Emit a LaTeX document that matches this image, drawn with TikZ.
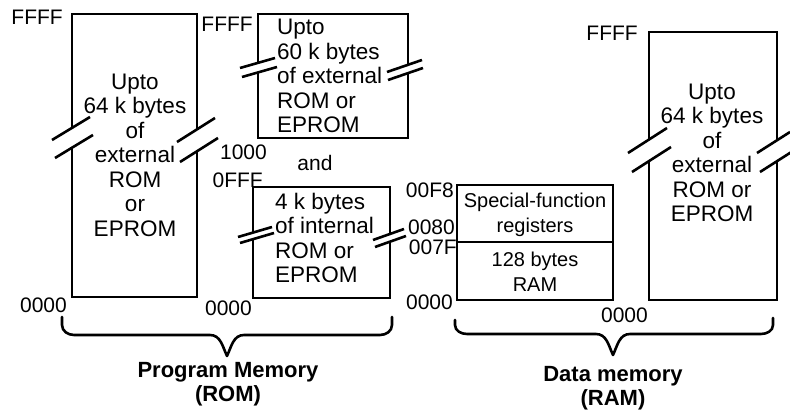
\documentclass[tikz,border=0pt]{standalone}
\usepackage{fontspec}
\setmainfont{Liberation Sans}
\newcommand\brkmark[7]{%
  \begin{scope}
    \clip (#1-3.5,#3-60) rectangle (#1+3.5,#3+60);
    \fill[white] (#2,#3) -- (#4,#5) -- (#4+#6,#5+#7) -- (#2+#6,#3+#7) -- cycle;
  \end{scope}
  \draw[brk] (#2,#3) -- (#4,#5);
  \draw[brk] (#2+#6,#3+#7) -- (#4+#6,#5+#7);}
\begin{document}
\begin{tikzpicture}[x=1pt,y=-1pt,
  box/.style={draw, line width=2.6pt, inner sep=0pt},
  brk/.style={line width=2.6pt},
  brace/.style={line width=2.6pt, line cap=round, line join=round},
  lbl/.style={font=\fontsize{21}{22}\selectfont, inner sep=0pt},
  txt/.style={font=\fontsize{22.5}{24.5}\selectfont, align=center, inner sep=0pt},
  stxt/.style={font=\fontsize{20}{24.5}\selectfont, align=center, inner sep=0pt},
  ttl/.style={font=\bfseries\fontsize{22}{24.5}\selectfont, align=center, inner sep=0pt}]
\useasboundingbox (0,0) rectangle (790,411);
\fill[white] (0,0) rectangle (790,411);

% boxes
\node[box, minimum width=125pt, minimum height=283pt] (ext64) at (134.5,155.5) {};
\node[box, minimum width=150pt, minimum height=124pt] (ext60) at (333,76) {};
\node[box, minimum width=137pt, minimum height=111pt] (int4) at (321.5,242.5) {};
\node[box, minimum width=156pt, minimum height=115pt] (dram) at (535,242.5) {};
\node[box, minimum width=128pt, minimum height=268pt] (xram) at (713,166) {};
\draw[brk] (457,242) -- (613,242);

% break marks
\brkmark{72}{52}{140}{90}{117}{3}{18}
\brkmark{197}{177}{142}{215}{118}{3}{20}
\brkmark{258}{240}{68}{275}{58}{2}{9}
\brkmark{408}{387}{72}{422}{60}{1}{8}
\brkmark{253}{238}{237}{272}{227}{2}{6}
\brkmark{390}{373}{240}{404}{229}{2}{7}
\brkmark{649}{628}{153}{667}{128}{4}{19}
\brkmark{777}{757}{153}{790}{132}{3}{19}

% box texts
\node[txt] (t1) at (135,155) {Upto\\64 k bytes\\of\\external\\ROM\\or\\EPROM};
\node[txt, align=left, anchor=west] (t2) at (277,76) {Upto\\60 k bytes\\of external\\ROM or\\EPROM};
\node[txt, align=left, anchor=west] (t3) at (275,238) {4 k bytes\\of internal\\ROM or\\EPROM};
\node[txt] (t5) at (712,153) {Upto\\64 k bytes\\of\\external\\ROM or\\EPROM};
\node[stxt] (sfr) at (535,215) {Special-function\\registers};
\node[stxt] (ram) at (535,272) {128 bytes\\RAM};

% address labels
\node[lbl, anchor=east] (a1) at (63,17) {FFFF};
\node[lbl, anchor=east] (a2) at (253,24) {FFFF};
\node[lbl, anchor=east] (a3) at (267,152) {1000};
\node[lbl] (and) at (315,163) {and};
\node[lbl, anchor=east] (a4) at (263,180) {0FFF};
\node[lbl, anchor=east] (a5) at (67,305) {0000};
\node[lbl, anchor=east] (a6) at (252,308) {0000};
\node[lbl, anchor=east] (a7) at (454,190) {00F8};
\node[lbl, anchor=east] (a8) at (455,227) {0080};
\node[lbl, anchor=east] (a9) at (457,247) {007F};
\node[lbl, anchor=east] (a10) at (453,302) {0000};
\node[lbl, anchor=east] (a11) at (648,315) {0000};
\node[lbl, anchor=east] (a12) at (638,33) {FFFF};

% braces
\draw[brace] (62,317) -- (62,325) to[out=-90,in=180] (74,335) -- (210,335)
  to[out=0,in=115] (227,356) to[out=65,in=180] (244,335) -- (380,335)
  to[out=0,in=-90] (392,325) -- (392,317);
\draw[brace] (455,320) -- (455,325) to[out=-90,in=180] (467,334) -- (596,334)
  to[out=0,in=115] (613,355) to[out=65,in=180] (630,334) -- (761,334)
  to[out=0,in=-90] (773,325) -- (773,318);

% titles
\node[ttl] (pm) at (228,384) {Program Memory\\(ROM)};
\node[ttl] (dm) at (613,388) {Data memory\\(RAM)};
\end{tikzpicture}
\end{document}
